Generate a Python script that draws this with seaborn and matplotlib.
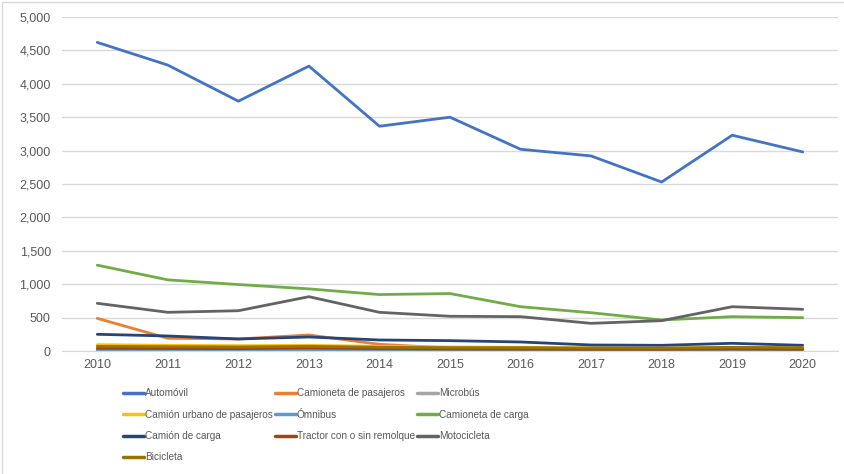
import pandas as pd
import matplotlib.pyplot as plt
import seaborn as sns
from matplotlib.patches import Rectangle
from matplotlib.ticker import FuncFormatter
from matplotlib import font_manager

# ---------------- datos ----------------
anios = [2010, 2011, 2012, 2013, 2014, 2015, 2016, 2017, 2018, 2019, 2020]

automovil = [4620, 4280, 3740, 4265, 3365, 3500, 3020, 2920, 2530, 3230, 2980]
camioneta_pasajeros = [489, 190, 180, 240, 100, 45, 40, 35, 30, 30, 25]
microbus = [20, 18, 15, 15, 12, 10, 10, 8, 8, 8, 5]
camion_urbano = [95, 85, 80, 85, 70, 60, 55, 45, 40, 45, 40]
omnibus = [10, 8, 8, 10, 6, 5, 5, 4, 4, 5, 3]
camioneta_carga = [1285, 1065, 995, 930, 845, 860, 663, 573, 464, 514, 499]
camion_carga = [250, 225, 180, 210, 165, 155, 135, 90, 85, 115, 85]
tractor = [40, 38, 35, 45, 35, 30, 28, 25, 25, 30, 25]
motocicleta = [714, 579, 603, 813, 579, 520, 514, 414, 454, 663, 624]
bicicleta = [70, 65, 60, 70, 55, 50, 50, 45, 45, 55, 50]

series = {
    "Automóvil": automovil,
    "Camioneta de pasajeros": camioneta_pasajeros,
    "Microbús": microbus,
    "Camión urbano de pasajeros": camion_urbano,
    "Ómnibus": omnibus,
    "Camioneta de carga": camioneta_carga,
    "Camión de carga": camion_carga,
    "Tractor con o sin remolque": tractor,
    "Motocicleta": motocicleta,
    "Bicicleta": bicicleta,
}
colores = ["#4472C4", "#ED7D31", "#A5A5A5", "#FFC000", "#5B9BD5",
           "#70AD47", "#264478", "#9E480E", "#636363", "#997300"]

df = pd.DataFrame(
    [(k, a, v) for k, vals in series.items() for a, v in zip(anios, vals)],
    columns=["tipo", "anio", "valor"],
)

# ---------------- figura ----------------
sns.set_style("white")
plt.rcParams['font.family'] = ['Liberation Sans', 'DejaVu Sans']
disponibles = {f.name for f in font_manager.fontManager.ttflist}
fuente_ley = 'Liberation Sans Narrow' if 'Liberation Sans Narrow' in disponibles else 'Liberation Sans'

fig = plt.figure(figsize=(8.44, 4.74), dpi=100)
ax = fig.add_axes([62 / 844, 1 - 351 / 474, (838 - 62) / 844, (351 - 17) / 474])

orden = list(series.keys())
paleta = dict(zip(orden, colores))
sns.lineplot(data=df, x="anio", y="valor", hue="tipo", hue_order=orden,
             palette=paleta, linewidth=2.0, ax=ax, legend=False)

ax.set_xlim(2009.5, 2020.5)
ax.set_ylim(0, 5000)
ax.set_xticks(anios)
ax.set_yticks(range(0, 5001, 500))
ax.yaxis.set_major_formatter(FuncFormatter(lambda v, p: f"{int(v):,}"))
ax.grid(axis="y", color="#d9d9d9", linewidth=1)
ax.set_axisbelow(True)
for s in ["top", "right", "left"]:
    ax.spines[s].set_visible(False)
ax.spines["bottom"].set_color("#d9d9d9")
ax.tick_params(axis="both", length=0, labelsize=9, labelcolor="#595959")
ax.tick_params(axis="y", pad=8)
ax.tick_params(axis="x", pad=6)
ax.set_xlabel("")
ax.set_ylabel("")

# leyenda por filas (como Excel): reordenar para el llenado por columnas
orden_ley = [orden[i] for i in [0, 3, 6, 9, 1, 4, 7, 2, 5, 8]]
handles = [plt.Line2D([], [], color=paleta[k], linewidth=2.5) for k in orden_ley]
tam_ley = 8.5 if fuente_ley == 'Liberation Sans Narrow' else 7.2
leg = fig.legend(handles, orden_ley, ncol=3, loc="upper left",
                 bbox_to_anchor=(119 / 844, 1 - 384 / 474), frameon=False,
                 prop={'family': fuente_ley, 'size': tam_ley},
                 handlelength=2.1, handletextpad=0.1,
                 columnspacing=0.2, labelspacing=1.15, borderaxespad=0)
for t in leg.get_texts():
    t.set_color("#595959")

# marco del gráfico
fig.patches.append(Rectangle((2 / 844, -0.1), 2, 1 - 2 / 474 + 0.1,
                             transform=fig.transFigure, fill=False,
                             edgecolor="#d9d9d9", linewidth=1))

fig.savefig("out.png", dpi=100)
